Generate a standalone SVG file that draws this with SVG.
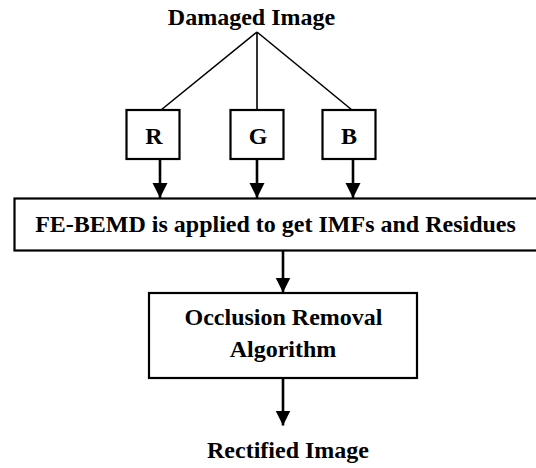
<svg xmlns="http://www.w3.org/2000/svg" width="536" height="468" viewBox="0 0 536 468">
  <style>
    .box { fill: #fff; stroke: #000; stroke-width: 2.2; }
    .lbl { font-weight: bold; font-size: 24px; fill: #000; text-anchor: middle; }
    .split { stroke: #000; stroke-width: 1.6; fill: none; }
    .arrow { stroke: #000; stroke-width: 2.6; fill: none; marker-end: url(#head); }
  </style>
  <defs>
    <marker id="head" markerUnits="userSpaceOnUse" markerWidth="16" markerHeight="16" refX="15" refY="7.5" orient="auto">
      <path d="M0,0 L15,7.5 L0,15 z" fill="#000"/>
    </marker>
  </defs>
  <rect width="536" height="468" fill="#fff"/>

  <!-- connectors -->
  <g id="connectors">
    <path class="split" d="M257,32 L161,110 M257,32 L257,110 M257,32 L352,110"/>
    <line class="arrow" x1="160" y1="159" x2="160" y2="198"/>
    <line class="arrow" x1="257" y1="159" x2="257" y2="198"/>
    <line class="arrow" x1="353" y1="159" x2="353" y2="198"/>
    <line class="arrow" x1="283" y1="251" x2="283" y2="292.5"/>
    <line class="arrow" x1="283" y1="378" x2="283" y2="425.5"/>
  </g>

  <g font-family="'Liberation Serif', serif">
    <g id="damaged-image">
      <text class="lbl" x="251.5" y="25">Damaged Image</text>
    </g>

    <g id="channel-r">
      <rect class="box" x="126.5" y="110" width="53" height="49"/>
      <text class="lbl" x="154" y="144">R</text>
    </g>
    <g id="channel-g">
      <rect class="box" x="230.5" y="110" width="53" height="49"/>
      <text class="lbl" x="258" y="144">G</text>
    </g>
    <g id="channel-b">
      <rect class="box" x="322.5" y="110" width="53" height="49"/>
      <text class="lbl" x="349" y="144">B</text>
    </g>

    <g id="fe-bemd">
      <rect class="box" x="14.5" y="198.5" width="530" height="52"/>
      <text class="lbl" x="275.5" y="232">FE-BEMD is applied to get IMFs and Residues</text>
    </g>

    <g id="occlusion-removal">
      <rect class="box" x="149" y="293" width="268" height="85"/>
      <text class="lbl" x="283.5" y="325">Occlusion Removal</text>
      <text class="lbl" x="283" y="357">Algorithm</text>
    </g>

    <g id="rectified-image">
      <text class="lbl" x="288" y="458">Rectified Image</text>
    </g>
  </g>
</svg>
